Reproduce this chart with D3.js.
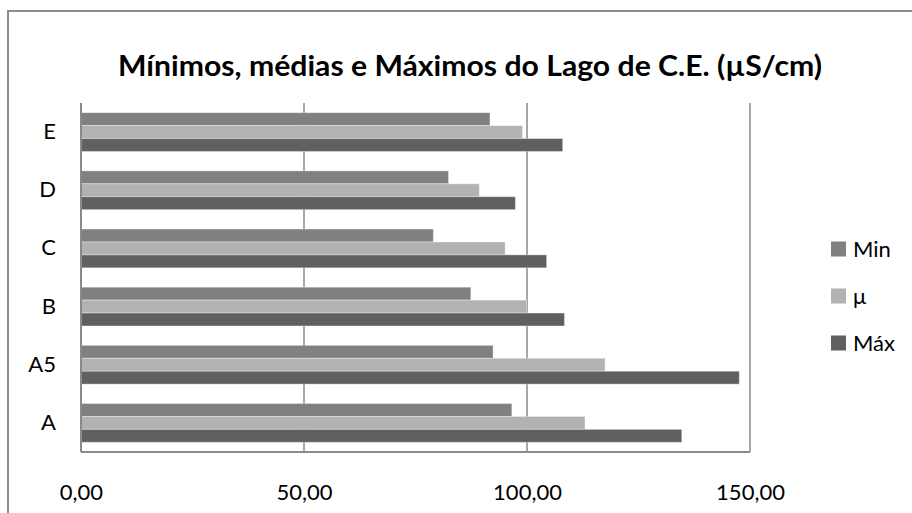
<!DOCTYPE html>
<html>
<head>
<meta charset="utf-8">
<script src="https://cdn.jsdelivr.net/npm/d3@7"></script>
<style>
  html, body { margin: 0; padding: 0; background: #fff; }
  svg { display: block; }
  text { font-family: Lato, "Open Sans", "Liberation Sans", sans-serif; fill: #000; }
</style>
</head>
<body>
<svg id="chart" width="912" height="513"></svg>
<script>
// Sample points, listed bottom to top as they appear on the category axis
const categories = ["A", "A5", "B", "C", "D", "E"];
const minValues  = [96.6, 92.4, 87.4, 79.0, 82.4, 91.7];
const meanValues = [113.0, 117.5, 99.9, 95.1, 89.3, 99.0];
const maxValues  = [134.7, 147.6, 108.4, 104.4, 97.4, 108.0];
const seriesNames = ["Min", "μ", "Máx"];
const xTicks = [0, 50, 100, 150];
const titleText = "Mínimos, médias e Máximos do Lago de C.E. (µS/cm)";

const seriesColors = ["#808080", "#b2b2b2", "#606060"];
const seriesValues = [minValues, meanValues, maxValues];

const svg = d3.select("#chart");

// Chart frame
svg.append("rect")
  .attr("x", 8).attr("y", 11)
  .attr("width", 920).attr("height", 520)
  .attr("fill", "#fff")
  .attr("stroke", "#8c8c8c")
  .attr("stroke-width", 2);

// Title
svg.append("text")
  .attr("x", 470).attr("y", 76)
  .attr("text-anchor", "middle")
  .attr("font-size", 28)
  .attr("font-weight", "bold")
  .attr("textLength", 704)
  .attr("lengthAdjust", "spacingAndGlyphs")
  .text(titleText);

const plot = { left: 81, right: 750, top: 103, bottom: 452 };

const x = d3.scaleLinear().domain([0, 150]).range([plot.left, plot.right]);

// Categories go bottom-up, so the band range runs from bottom to top
const y = d3.scaleBand()
  .domain(categories)
  .range([plot.bottom, plot.top])
  .paddingInner(0.3333)
  .paddingOuter(0.1667);

// Within each band the series stack top-down: Min, μ, Máx
const ySeries = d3.scaleBand()
  .domain(seriesNames)
  .range([0, y.bandwidth()]);

// Vertical gridlines
svg.append("g")
  .selectAll("line")
  .data(xTicks)
  .join("line")
  .attr("x1", d => x(d)).attr("x2", d => x(d))
  .attr("y1", plot.top).attr("y2", plot.bottom)
  .attr("stroke", "#8a8a8a")
  .attr("stroke-width", 1.5);

// Bars
const rows = [];
categories.forEach((c, i) => {
  seriesNames.forEach((s, j) => {
    rows.push({ cat: c, series: s, value: seriesValues[j][i], color: seriesColors[j] });
  });
});

svg.append("g")
  .selectAll("rect")
  .data(rows)
  .join("rect")
  .attr("x", x(0))
  .attr("y", d => y(d.cat) + ySeries(d.series))
  .attr("width", d => x(d.value) - x(0))
  .attr("height", ySeries.bandwidth())
  .attr("fill", d => d.color)
  .attr("stroke", "rgba(255,255,255,0.35)")
  .attr("stroke-width", 1);

// Axis lines (left and bottom)
svg.append("line")
  .attr("x1", plot.left).attr("x2", plot.left)
  .attr("y1", plot.top).attr("y2", plot.bottom)
  .attr("stroke", "#8a8a8a").attr("stroke-width", 2);
svg.append("line")
  .attr("x1", plot.left).attr("x2", plot.right)
  .attr("y1", plot.bottom).attr("y2", plot.bottom)
  .attr("stroke", "#8a8a8a").attr("stroke-width", 2);

// Category axis
const yAxis = d3.axisLeft(y).tickSize(0).tickPadding(25);
const gy = svg.append("g")
  .attr("transform", `translate(${plot.left},0)`)
  .call(yAxis);
gy.select(".domain").remove();
gy.selectAll("text")
  .attr("font-size", 22)
  .attr("font-family", "Lato, 'Open Sans', sans-serif")
  .attr("fill", "#000");

// Value axis
const fmt = d => d3.format(".2f")(d).replace(".", ",");
const xAxis = d3.axisBottom(x).tickValues(xTicks).tickFormat(fmt).tickSize(0).tickPadding(32);
const gx = svg.append("g")
  .attr("transform", `translate(0,${plot.bottom})`)
  .call(xAxis);
gx.select(".domain").remove();
gx.selectAll("text")
  .attr("font-size", 22)
  .attr("font-family", "Lato, 'Open Sans', sans-serif")
  .attr("fill", "#000");

// Legend
const legend = svg.append("g")
  .selectAll("g")
  .data(seriesNames)
  .join("g")
  .attr("transform", (d, i) => `translate(831, ${249 + i * 47})`);
legend.append("rect")
  .attr("x", 0).attr("y", -7.5)
  .attr("width", 15).attr("height", 15)
  .attr("fill", (d, i) => seriesColors[i]);
legend.append("text")
  .attr("x", 22).attr("y", 8)
  .attr("font-size", 22)
  .text(d => d);
</script>
</body>
</html>
